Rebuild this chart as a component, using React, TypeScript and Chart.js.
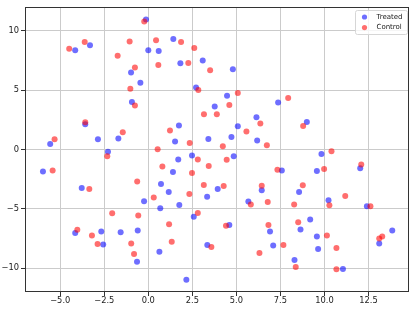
import React, { useEffect, useRef } from "react";
import { Chart, registerables } from "chart.js";

Chart.register(...registerables);

const treatedX = [-4.15, -3.31, -0.98, -0.45, -0.93, -0.13, 1.42, 0.0, 0.59, 1.82, 3.09, 4.8, 2.71, 4.47, 3.77, 7.37, -3.58, -5.57, -2.86, -1.7, -2.29, -5.98, -3.78, 1.74, 1.52, 3.41, 4.72, 5.08, 6.14, 6.18, 2.48, 1.7, 4.85, 1.4, 0.72, 3.94, 1.16, 3.34, -0.24, 1.76, 0.68, 6.44, 5.68, 9.0, 9.83, 7.58, 9.57, 12.03, 8.56, 10.23, 12.41, -4.15, -2.67, -2.56, -1.57, -0.64, -0.6, 2.58, 4.6, 0.63, 3.35, 2.16, 6.91, 7.09, 8.64, 9.19, 9.57, 9.64, 8.3, 11.05, 13.11, 13.85];
const treatedY = [8.35, 8.77, 6.48, 5.61, 3.99, 10.95, 9.3, 8.35, 8.3, 7.26, 7.49, 6.76, 5.22, 4.52, 3.63, 3.96, 2.12, 0.47, 0.86, 0.92, -0.2, -1.85, -3.24, 2.01, 0.67, 0.89, 1.06, 1.95, 2.71, 0.75, -0.5, -0.84, -0.56, -1.9, -2.91, -3.33, -3.58, -3.97, -4.36, -4.67, -4.95, -3.44, -4.39, 2.31, -0.37, -1.76, -1.82, -1.57, -3.58, -4.28, -4.78, -7.04, -6.91, -8.0, -6.96, -9.45, -6.82, -5.67, -6.35, -8.61, -8.05, -10.96, -6.91, -8.08, -6.74, -5.9, -7.33, -8.38, -9.3, -10.06, -7.91, -6.82];

const controlX = [-4.49, -3.61, -1.06, -1.74, -0.76, -1.02, -0.76, -0.23, 0.44, 1.86, 2.61, 0.57, 2.27, 3.51, 2.84, 5.08, 4.6, 7.94, -3.58, -5.32, -1.45, -2.33, -5.43, -0.63, -3.35, 3.16, 3.89, 1.23, 2.35, 4.23, 5.57, 6.36, 6.73, 0.53, 2.81, 3.43, 4.45, 0.8, 2.48, 3.15, 4.28, 2.33, 0.31, 6.44, 5.82, 6.78, 8.79, 10.4, 7.33, 9.98, 12.09, 8.77, 8.28, 10.28, 11.18, 12.61, -4.03, -3.2, -2.88, -2.05, -0.97, -0.81, -0.57, 2.81, 1.18, 4.41, 1.33, 3.58, 6.31, 6.82, 7.67, 8.51, 10.14, 10.68, 8.37, 10.68, 13.11, 13.28];
const controlY = [8.49, 9.05, 9.1, 7.9, 6.9, 5.11, 3.71, 10.78, 9.19, 9.05, 8.55, 7.12, 7.29, 6.67, 5.0, 4.75, 3.74, 4.33, 2.29, 0.86, 1.45, -0.56, -1.76, -2.7, -3.33, 2.96, 2.96, 1.59, 0.55, 0.28, 1.51, 2.18, 0.36, 0.03, -0.84, -1.4, -0.87, -1.43, -1.99, -2.99, -3.08, -3.75, -4.05, -3.05, -4.64, -4.42, 1.98, -0.14, -1.71, -1.65, -1.26, -3.02, -4.64, -4.7, -3.91, -4.78, -6.76, -7.24, -7.96, -5.36, -7.91, -8.8, -5.56, -5.34, -6.29, -6.43, -7.77, -8.22, -8.72, -6.35, -8.05, -6.12, -7.24, -8.3, -9.89, -10.09, -7.49, -7.33];

const xTickValues = [-5, -2.5, 0, 2.5, 5, 7.5, 10, 12.5];
const yTickValues = [-10, -5, 0, 5, 10];
const seriesLabels = ["Treated", "Control"];

const BLUE = "rgba(0,0,255,0.57)";
const RED = "rgba(255,0,0,0.57)";
const FONT = "DejaVu Sans";

const minus = (s: string) => s.replace("-", "\u2212");

const framePlugin = {
  id: "frame",
  afterDatasetsDraw(chart: any) {
    const { ctx, chartArea } = chart;
    const l = Math.round(chartArea.left) + 0.5;
    const t = Math.round(chartArea.top) + 0.5;
    const r = Math.round(chartArea.right) - 0.5;
    const b = Math.round(chartArea.bottom) - 0.5;
    ctx.save();
    ctx.strokeStyle = "#333";
    ctx.lineWidth = 1;
    ctx.strokeRect(l, t, r - l, b - t);
    ctx.restore();
  },
  afterDraw(chart: any) {
    const { ctx, chartArea } = chart;
    const bw = 52;
    const bh = 24;
    const bx = Math.round(chartArea.right - bw - 2.5) + 0.5;
    const by = Math.round(chartArea.top + 3) + 0.5;
    ctx.save();
    ctx.beginPath();
    const rr = 2;
    ctx.moveTo(bx + rr, by);
    ctx.lineTo(bx + bw - rr, by);
    ctx.quadraticCurveTo(bx + bw, by, bx + bw, by + rr);
    ctx.lineTo(bx + bw, by + bh - rr);
    ctx.quadraticCurveTo(bx + bw, by + bh, bx + bw - rr, by + bh);
    ctx.lineTo(bx + rr, by + bh);
    ctx.quadraticCurveTo(bx, by + bh, bx, by + bh - rr);
    ctx.lineTo(bx, by + rr);
    ctx.quadraticCurveTo(bx, by, bx + rr, by);
    ctx.closePath();
    ctx.fillStyle = "rgba(255,255,255,0.8)";
    ctx.fill();
    ctx.strokeStyle = "#d6d6d6";
    ctx.lineWidth = 1;
    ctx.stroke();
    chart.data.datasets.forEach((ds: any, i: number) => {
      const cy = by + 6.5 + i * 10.6;
      ctx.beginPath();
      ctx.arc(bx + 9, cy, 2.6, 0, Math.PI * 2);
      ctx.fillStyle = ds.backgroundColor;
      ctx.fill();
      ctx.fillStyle = "#222";
      ctx.font = `7px "${FONT}"`;
      ctx.textBaseline = "middle";
      ctx.textAlign = "left";
      ctx.fillText(ds.label, bx + 21, cy);
    });
    ctx.restore();
  },
};

export default function App() {
  const ref = useRef<HTMLCanvasElement | null>(null);
  useEffect(() => {
    if (!ref.current) return;
    const treated = treatedX.map((x, i) => ({ x, y: treatedY[i] }));
    const control = controlX.map((x, i) => ({ x, y: controlY[i] }));
    const chart = new Chart(ref.current, {
      type: "scatter",
      data: {
        datasets: [
          { label: seriesLabels[0], data: treated, backgroundColor: BLUE, borderWidth: 0, pointRadius: 3.0, order: 1 },
          { label: seriesLabels[1], data: control, backgroundColor: RED, borderWidth: 0, pointRadius: 3.0, order: 0 },
        ],
      },
      options: {
        responsive: false,
        animation: false,
        layout: { padding: { top: 5, right: 6, left: 0, bottom: 0 } },
        plugins: { legend: { display: false }, tooltip: { enabled: false } },
        events: [],
        scales: {
          x: {
            type: "linear",
            min: -7,
            max: 14.8,
            afterBuildTicks: (scale: any) => {
              scale.ticks = xTickValues.map((value) => ({ value }));
            },
            afterFit: (scale: any) => {
              scale.height = 18;
            },
            border: { display: false },
            grid: { color: "#cbcbcb", lineWidth: 1, tickLength: 4, tickColor: "#333" },
            ticks: {
              padding: 0,
              maxRotation: 0,
              autoSkip: false,
              color: "#222",
              font: { family: FONT, size: 8.3 },
              callback: (v: any) => minus(Number(v).toFixed(1)),
            },
          },
          y: {
            type: "linear",
            min: -12,
            max: 12,
            afterBuildTicks: (scale: any) => {
              scale.ticks = yTickValues.map((value) => ({ value }));
            },
            afterFit: (scale: any) => {
              scale.width = 25;
            },
            border: { display: false },
            grid: { color: "#cbcbcb", lineWidth: 1, tickLength: 4, tickColor: "#333" },
            ticks: {
              padding: 2,
              autoSkip: false,
              color: "#222",
              font: { family: FONT, size: 8.3 },
              callback: (v: any) => minus(String(v)),
            },
          },
        },
      },
      plugins: [framePlugin],
    });
    return () => chart.destroy();
  }, []);
  return (
    <div style={{ position: "absolute", left: 0, top: 0, width: 415, height: 310, background: "#fff" }}>
      <canvas ref={ref} width={415} height={310} />
    </div>
  );
}
